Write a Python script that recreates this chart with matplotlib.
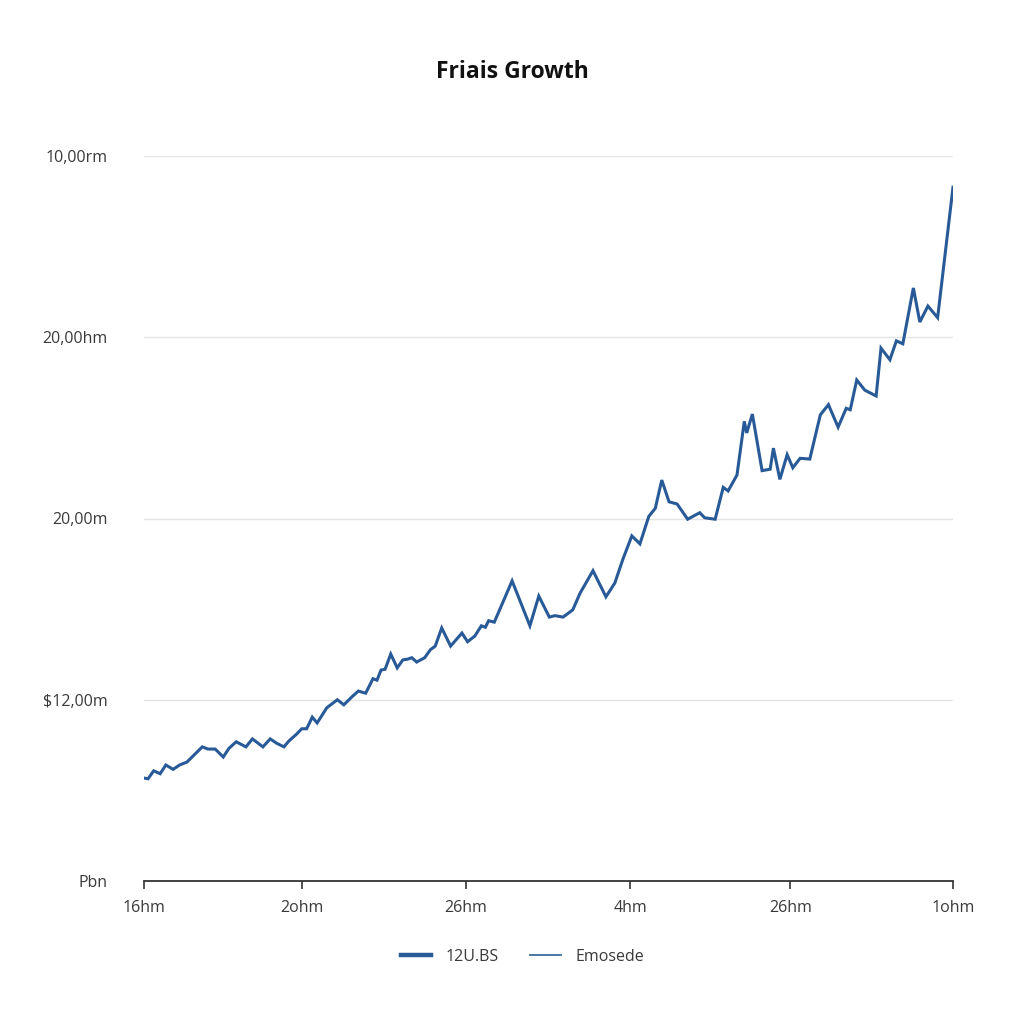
import matplotlib
matplotlib.use("Agg")
import matplotlib.pyplot as plt
from matplotlib.lines import Line2D

title = "Friais Growth"
series_names = ["12U.BS", "Emosede"]

x_vals = [0, 0.5, 1.2, 2.0, 2.7, 3.6, 4.4, 5.3, 6.3, 7.2, 7.9, 8.8, 9.8, 10.5, 11.4,
          12.6, 13.4, 14.7, 15.6, 16.4, 17.3, 17.9, 18.9, 19.5, 20.1, 20.8, 21.4,
          22.6, 23.9, 24.7, 25.7, 26.5, 27.4, 28.3, 28.8, 29.3, 29.8, 30.5, 31.3,
          32.0, 32.6, 33.1, 33.7, 34.7, 35.4, 36.0, 36.8, 37.9, 39.3, 40.0, 40.9,
          41.7, 42.2, 42.6, 43.3, 45.5, 47.7, 48.8, 50.1, 50.8, 51.8, 53.0, 53.9,
          55.5, 57.1, 58.2, 59.2, 60.3, 61.3, 62.4, 63.2, 64.0, 64.9, 65.9, 67.2,
          68.7, 69.3, 70.6, 71.6, 72.2, 73.3, 74.2, 74.5, 75.2, 76.4, 77.4, 77.8,
          78.6, 79.5, 80.2, 81.1, 82.3, 83.6, 84.6, 85.8, 86.8, 87.3, 88.1, 89.1,
          90.5, 91.1, 92.2, 93.0, 93.8, 95.1, 95.9, 96.9, 98.1, 100]
y_vals = [14.2, 14.1, 15.2, 14.8, 16.0, 15.4, 16.0, 16.4, 17.5, 18.5, 18.2, 18.2, 17.1,
          18.3, 19.2, 18.5, 19.6, 18.5, 19.6, 19.0, 18.5, 19.3, 20.3, 21.0, 21.0,
          22.6, 21.8, 23.9, 25.0, 24.3, 25.4, 26.2, 25.9, 27.9, 27.7, 29.1, 29.2,
          31.3, 29.4, 30.5, 30.6, 30.8, 30.2, 30.8, 31.9, 32.4, 34.9, 32.4, 34.2,
          33.0, 33.8, 35.2, 35.0, 35.9, 35.7, 41.4, 35.2, 39.3, 36.4, 36.6, 36.4,
          37.4, 39.7, 42.8, 39.2, 41.1, 44.4, 47.6, 46.5, 50.3, 51.4, 55.3, 52.3,
          52.0, 49.9, 50.8, 50.1, 49.9, 54.3, 53.8, 56.0, 63.4, 61.8, 64.4, 56.6,
          56.8, 59.7, 55.4, 58.8, 57.0, 58.3, 58.2, 64.3, 65.7, 62.6, 65.2, 65.0,
          69.1, 67.7, 66.9, 73.5, 71.9, 74.5, 74.1, 81.8, 77.1, 79.3, 77.7, 95.7]

y_ticks = [0, 25, 50, 75, 100]
y_labels = ["Pbn", "$12,00m", "20,00m", "20,00hm", "10,00rm"]
x_ticks = [0, 19.5, 39.8, 60.1, 79.9, 100]
x_labels = ["16hm", "2ohm", "26hm", "4hm", "26hm", "1ohm"]

plt.rcParams['font.family'] = ['Open Sans', 'DejaVu Sans']

fig = plt.figure(figsize=(10.24, 10.24), dpi=100)
ax = fig.add_axes([144/1024, 1 - 881/1024, (953-144)/1024, (881-156)/1024])

main_color = "#285a98"
ax.plot(x_vals, y_vals, color=main_color, lw=2.2, solid_joinstyle='miter')

ax.set_xlim(0, 100)
ax.set_ylim(0, 100)
ax.set_yticks(y_ticks)
ax.set_yticklabels([l.replace("$", r"\$") for l in y_labels])
ax.set_xticks(x_ticks)
ax.set_xticklabels(x_labels)

ax.grid(axis='y', color="#e4e4e4", lw=1)
ax.set_axisbelow(True)
for s in ["top", "right", "left"]:
    ax.spines[s].set_visible(False)
ax.spines["bottom"].set_color("#333333")
ax.spines["bottom"].set_linewidth(1.3)

ax.tick_params(axis='y', length=0, pad=26, labelsize=11.5, labelcolor="#3a3a3a")
ax.tick_params(axis='x', length=6, width=1.2, color="#333333", pad=8,
               labelsize=11.5, labelcolor="#3a3a3a")

fig.text(0.5, 1 - 72/1024, title, ha='center', va='center', fontsize=16.5,
         fontweight='bold', color="#111111")

handles = [Line2D([], [], color=main_color, lw=3.2),
           Line2D([], [], color="#3a6d9e", lw=1.3)]
fig.legend(handles, series_names, loc='center', bbox_to_anchor=(0.51, 1 - 957/1024),
           ncol=2, frameon=False, fontsize=11.5, handlelength=1.9, handletextpad=0.9,
           columnspacing=2.0, labelcolor="#3a3a3a")

fig.savefig("out.png", dpi=100, facecolor="white")
